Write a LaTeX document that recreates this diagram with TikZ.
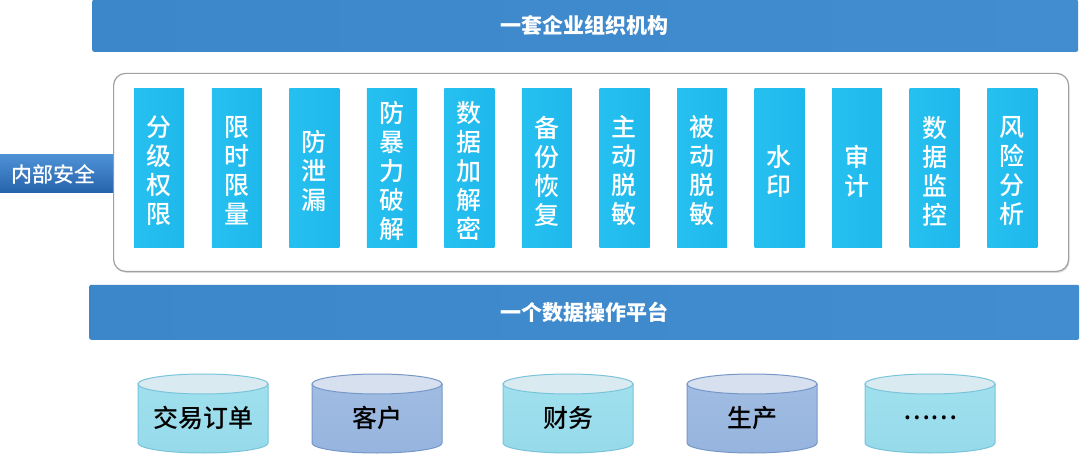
\documentclass[tikz,border=0pt]{standalone}
\usepackage{fontspec}
\newfontfamily\cjk{Noto Sans CJK SC}
\newfontfamily\cjkm{Noto Sans CJK SC Medium}
\usetikzlibrary{shadows}
\definecolor{barblue}{RGB}{60,135,202}
\definecolor{barblue2}{RGB}{66,140,208}
\definecolor{colblue}{RGB}{38,192,240}
\definecolor{colblue2}{RGB}{30,184,236}
\definecolor{navtop}{RGB}{78,146,214}
\definecolor{navbot}{RGB}{38,98,170}
\definecolor{cyanbody}{RGB}{160,224,238}
\definecolor{cyanbody2}{RGB}{150,218,234}
\definecolor{cyanline}{RGB}{120,196,218}
\definecolor{cyantop}{RGB}{218,234,241}
\definecolor{bluebody}{RGB}{160,188,226}
\definecolor{bluebody2}{RGB}{150,180,222}
\definecolor{blueline}{RGB}{118,152,200}
\definecolor{bluetop}{RGB}{214,224,238}
\definecolor{framegray}{RGB}{160,160,160}
\tikzset{
  bar/.style={rectangle, rounded corners=2pt, inner sep=0pt, left color=barblue, right color=barblue2, draw=none},
  bartext/.style={text=white, font=\cjk\bfseries\fontsize{21}{25}\selectfont},
  colbox/.style={rectangle, minimum width=50pt, minimum height=159pt, inner sep=0pt, left color=colblue, right color=colblue2, draw=none},
  coltext/.style={text=white, align=center, font=\cjkm\fontsize{25}{29}\selectfont, inner sep=0pt},
  sidebox/.style={rectangle, inner sep=0pt, top color=navtop, bottom color=navbot, draw=none},
  frame/.style={rectangle, rounded corners=12pt, draw=framegray, line width=1.2pt, fill=white, drop shadow={shadow xshift=1pt, shadow yshift=-1.5pt, opacity=0.25}},
  cyltext/.style={text=black, font=\cjkm\fontsize{25}{29}\selectfont, inner sep=0pt},
}
\newcommand{\mycyl}[5]{% cx, bodycolor, bodycolor2, line, top
  \path[top color=#2, bottom color=#3, draw=#4, line width=1pt]
    (#1-65,72) -- (#1-65,13) arc[start angle=180, end angle=360, x radius=65, y radius=10] -- (#1+65,72) -- cycle;
  \path[fill=#5, draw=#4, line width=1pt] (#1,72) ellipse[x radius=65, y radius=10];
}
\begin{document}
\begin{tikzpicture}[x=1pt,y=1pt]
\useasboundingbox (0,0) rectangle (1080,456);
\fill[white] (0,0) rectangle (1080,456);
% top bar
\node[bar, minimum width=986pt, minimum height=52pt, anchor=south west] (top) at (92,404) {};
\node[bartext] (toptext) at (584,431) {一套企业组织机构};
% frame
\node[frame, minimum width=955pt, minimum height=198pt, anchor=south west] (frm) at (113,184) {};
% side box
\node[sidebox, minimum width=113pt, minimum height=38pt, anchor=south west] (side) at (0,263) {};
\node[text=white, font=\cjkm\fontsize{21}{25}\selectfont] (sidetext) at (54,282) {内部安全};
% columns
\foreach \t [count=\i from 0] in {分\\级\\权\\限, 限\\时\\限\\量, 防\\泄\\漏, 防\\暴\\力\\破\\解, 数\\据\\加\\解\\密, 备\\份\\恢\\复, 主\\动\\脱\\敏, 被\\动\\脱\\敏, 水\\印, 审\\计, 数\\据\\监\\控, 风\\险\\分\\析}{
  \node[colbox, anchor=south west] (col\i) at ({134+77.55*\i},208) {};
  \node[coltext] (colt\i) at ({159+77.55*\i},285) {\t};
}
% bottom bar
\node[bar, minimum width=990pt, minimum height=55pt, anchor=south west] (bot) at (89,116) {};
\node[bartext] (bottext) at (584,143.5) {一个数据操作平台};
% cylinders
\mycyl{203}{cyanbody}{cyanbody2}{cyanline}{cyantop}
\node[cyltext] (db1) at (203,38) {交易订单};
\mycyl{377}{bluebody}{bluebody2}{blueline}{bluetop}
\node[cyltext] (db2) at (377,38) {客户};
\mycyl{568}{cyanbody}{cyanbody2}{cyanline}{cyantop}
\node[cyltext] (db3) at (568,38) {财务};
\mycyl{752}{bluebody}{bluebody2}{blueline}{bluetop}
\node[cyltext] (db4) at (752,38) {生产};
\mycyl{930}{cyanbody}{cyanbody2}{cyanline}{cyantop}
\node[cyltext] (db5) at (930,38) {……};
\end{tikzpicture}
\end{document}
